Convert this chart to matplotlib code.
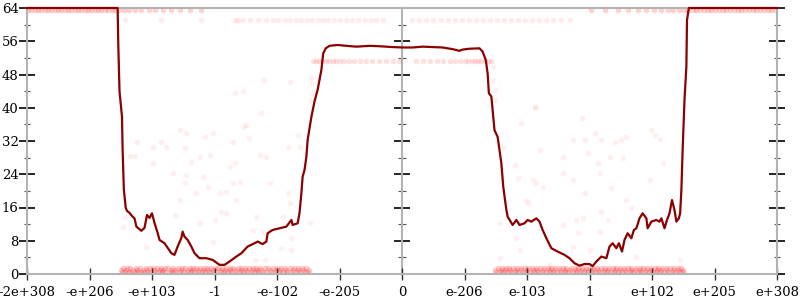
import matplotlib
matplotlib.use('Agg')
import matplotlib.pyplot as plt
from matplotlib.ticker import MultipleLocator

# x axis is an ordinal float scale, one unit per labelled tick
tick_labels = ['-2e+308', '-e+206', '-e+103', '-1', '-e-102', '-e-205', '0',
               'e-206', 'e-103', '1', 'e+102', 'e+205', 'e+308']

# average bits of error
line_x = [-6.00, -4.55, -4.54, -4.52, -4.48, -4.47, -4.45, -4.42, -4.40, -4.36, -4.31, -4.28,
          -4.25, -4.17, -4.12, -4.08, -4.04, -4.00, -3.96, -3.91, -3.88, -3.80, -3.75, -3.69,
          -3.64, -3.59, -3.53, -3.51, -3.48, -3.43, -3.37, -3.32, -3.24, -3.13, -3.03, -2.92,
          -2.84, -2.76, -2.65, -2.57, -2.47, -2.36, -2.31, -2.23, -2.17, -2.15, -2.07, -1.96,
          -1.85, -1.77, -1.75, -1.67, -1.64, -1.61, -1.59, -1.56, -1.53, -1.51, -1.45, -1.40,
          -1.35, -1.29, -1.26, -1.22, -1.16, -1.03, -0.89, -0.73, -0.52, -0.36, -0.15, 0.01,
          0.17, 0.33, 0.49, 0.65, 0.81, 0.92, 0.97, 1.08, 1.24, 1.29, 1.34, 1.37,
          1.39, 1.43, 1.48, 1.53, 1.59, 1.62, 1.67, 1.69, 1.77, 1.83, 1.88, 1.96,
          2.01, 2.07, 2.15, 2.20, 2.25, 2.31, 2.39, 2.49, 2.60, 2.68, 2.76, 2.84,
          2.92, 3.00, 3.05, 3.11, 3.19, 3.27, 3.32, 3.37, 3.43, 3.47, 3.52, 3.56,
          3.61, 3.67, 3.71, 3.75, 3.80, 3.85, 3.91, 3.93, 3.99, 4.07, 4.12, 4.15,
          4.20, 4.24, 4.28, 4.32, 4.36, 4.39, 4.43, 4.45, 4.47, 4.49, 4.52, 4.55,
          4.56, 4.59, 6.00]
line_y = [64.0, 64.0, 55.6, 44.0, 37.8, 29.8, 20.2, 15.9, 15.2, 14.7, 13.8, 13.4,
          11.4, 10.4, 11.1, 14.2, 13.5, 14.6, 12.3, 9.9, 8.2, 7.4, 6.3, 5.0,
          4.6, 6.6, 8.7, 10.2, 9.0, 8.2, 6.6, 5.0, 3.8, 3.8, 3.4, 2.2,
          2.2, 3.0, 4.2, 5.0, 6.6, 7.4, 7.8, 7.2, 7.8, 9.8, 10.6, 11.0,
          11.4, 13.0, 11.8, 12.2, 14.6, 19.4, 23.4, 25.0, 28.2, 32.2, 37.8, 41.5,
          44.3, 49.1, 53.1, 54.3, 54.9, 55.1, 54.9, 54.7, 54.9, 54.8, 54.6, 54.5,
          54.5, 54.7, 54.6, 54.5, 54.1, 53.7, 54.0, 54.2, 54.3, 53.5, 51.5, 48.3,
          43.5, 42.7, 34.6, 33.0, 26.6, 21.0, 15.4, 13.8, 11.8, 13.0, 11.8, 12.2,
          13.0, 12.6, 13.4, 12.6, 10.6, 8.6, 6.2, 5.4, 4.6, 3.8, 2.6, 2.0,
          2.4, 2.4, 1.9, 3.0, 4.2, 3.8, 6.6, 7.4, 6.2, 7.4, 5.4, 8.2,
          9.8, 8.6, 10.6, 11.0, 13.4, 14.6, 13.4, 11.0, 12.6, 13.0, 12.6, 13.4,
          11.0, 13.0, 14.6, 17.8, 15.4, 12.6, 13.4, 14.6, 20.2, 29.8, 41.9, 49.9,
          61.1, 64.0, 64.0]

# individual samples scattered between the bands
pts_x = [-4.35, -4.28, -3.99, -3.67, -3.37, -3.24, -3.08, -2.76, -2.68, -2.28, -2.17, -3.45,
         -3.19, -2.71, -2.60, -3.48, -3.29, -3.11, -2.92, -2.81, -2.65, -2.89, -2.81, -3.00,
         -3.24, -2.33, -2.39, -2.23, -4.09, -4.44, -4.47, -2.55, -2.36, -2.20, -3.56, -3.64,
         -3.03, -3.56, -3.45, -4.24, -3.99, -3.85, -3.78, -3.16, -3.03, -2.71, -2.53, -2.50,
         -2.45, -2.68, -2.55, -2.25, -2.21, -3.47, -1.80, -1.45, -1.44, -1.43, -1.45, -1.67,
         -1.83, -1.64, -2.12, -1.83, -1.80, -1.91, -1.77, -1.93, -1.77, -1.48,
         1.45, 1.46, 1.48, 1.49, 2.13, 1.91, 1.61, 1.56, 1.83, 1.88, 1.56, 1.80,
         1.99, 2.01, 1.85, 2.09, 2.57, 2.97, 3.13, 3.32, 3.53, 4.17, 2.57, 2.73,
         3.16, 3.96, 2.15, 2.25, 2.92, 3.35, 3.59, 3.67, 3.19, 2.79, 2.89, 3.29,
         2.57, 2.81, 3.16, 2.73, 3.00, 3.75, 4.44, 2.36, 2.12, 2.88, 3.08, 3.18,
         2.73, 2.92, 3.40, 3.51, 3.59, 3.99, 4.04, 4.12, 2.20]
pts_y = [28.4, 28.4, 26.6, 24.2, 27.0, 28.2, 28.6, 25.8, 26.6, 28.6, 28.2, 23.8,
         23.4, 21.8, 22.2, 21.8, 19.4, 21.0, 19.4, 19.8, 17.8, 15.0, 14.6, 13.0,
         12.2, 13.8, 10.6, 9.8, 6.6, 13.8, 11.4, 5.0, 3.4, 3.4, 17.8, 14.2,
         7.8, 34.6, 33.9, 31.8, 30.6, 31.8, 30.6, 33.0, 33.9, 31.8, 35.4, 35.9,
         32.8, 43.5, 44.1, 38.8, 46.7, 30.2, 46.3, 47.1, 45.9, 43.5, 41.9, 33.4,
         30.6, 30.6, 21.8, 19.4, 17.0, 13.8, 8.6, 6.2, 5.8, 12.2,
         49.9, 46.7, 44.3, 41.9, 40.3, 36.3, 30.6, 12.2, 8.6, 5.8, 3.8, 26.2,
         17.8, 17.0, 23.0, 22.6, 28.2, 29.0, 26.6, 28.2, 27.8, 26.6, 24.2, 22.6,
         24.2, 22.6, 21.8, 21.0, 19.4, 20.6, 17.8, 15.8, 15.0, 13.0, 13.4, 13.0,
         11.8, 9.8, 10.2, 6.6, 5.8, 4.2, 3.4, 2.2, 40.3, 37.5, 33.9, 32.2,
         32.2, 32.2, 31.8, 32.2, 33.0, 34.6, 33.4, 32.6, 29.8]

# samples piled up on a few error levels
top_x = [-5.98, -5.93, -5.88, -5.83, -5.78, -5.72, -5.67, -5.62, -5.56, -5.51, -5.46, -5.40,
         -5.35, -5.30, -5.24, -5.19, -5.13, -5.08, -5.03, -4.97, -4.92, -4.86, -4.81, -4.75,
         -4.70, -4.64, -4.59, -4.53, -4.45, -4.37, -4.28, -4.18, -4.05, -3.96, -3.83, -3.70,
         -3.55, -3.40, -3.22,
         3.02, 3.25, 3.46, 3.62, 3.78, 3.91, 4.03, 4.14, 4.25, 4.34, 4.43, 4.51,
         4.58, 4.65, 4.71, 4.77, 4.83, 4.89, 4.95, 5.01, 5.07, 5.13, 5.19, 5.25,
         5.31, 5.37, 5.43, 5.49, 5.55, 5.61, 5.67, 5.73, 5.79, 5.85, 5.91, 5.97]
top_y = 63.5
band61_x = [-4.44, -3.86, -3.22, -2.68, -2.62, -2.55, -2.44, -2.30, -2.18, -2.07, -1.98,
            -1.88, -1.79, -1.70, -1.61, -1.52, -1.44, -1.35, -1.27, -1.18, -1.09,
            -1.00, -0.90, -0.80, -0.70, -0.60, -0.50, -0.41, -0.30,
            0.16, 0.27, 0.39, 0.50, 0.62, 0.73, 0.85, 0.96, 1.07, 1.19, 1.30,
            1.41, 1.52, 1.63, 1.75, 1.86, 1.97, 2.08, 2.19, 2.30, 2.42, 2.55, 2.68]
band61_y = 61.1
band51_x = [-1.43, -1.38, -1.33, -1.28, -1.22, -1.17, -1.11, -1.06, -1.00, -0.93, -0.85,
            -0.77, -0.68, -0.58, -0.48, -0.37, -0.26, -0.15, -0.05,
            0.22, 0.33, 0.44, 0.56, 0.66, 0.76, 0.85, 0.93, 1.00, 1.06, 1.12,
            1.17, 1.22, 1.27, 1.32, 1.37, 1.42]
band51_y = 51.3
low_a_x = [-4.48, -4.43, -4.37, -4.33, -4.28, -4.22, -4.17, -4.13, -4.06, -4.01, -3.95, -3.90,
           -3.84, -3.79, -3.72, -3.68, -3.61, -3.55, -3.50, -3.44, -3.38, -3.33, -3.26, -3.20,
           -3.15, -3.09, -3.03, -2.97, -2.90, -2.85, -2.79, -2.73, -2.66, -2.60, -2.55, -2.48,
           -2.42, -2.36, -2.30, -2.23, -2.17, -2.10, -2.04, -1.97, -1.90, -1.84, -1.77, -1.70,
           -1.63, -1.56, -1.50,
           1.51, 1.57, 1.62, 1.68, 1.75, 1.81, 1.86, 1.93, 1.99, 2.05, 2.11, 2.17,
           2.24, 2.30, 2.36, 2.41, 2.48, 2.54, 2.60, 2.66, 2.73, 2.78, 2.84, 2.91,
           2.97, 3.03, 3.09, 3.15, 3.21, 3.28, 3.34, 3.39, 3.46, 3.52, 3.58, 3.64,
           3.70, 3.77, 3.83, 3.88, 3.95, 4.01, 4.07, 4.13, 4.19, 4.26, 4.32, 4.38,
           4.44, 4.49]
low_a_y = 0.6
low_b_x = [-4.46, -4.40, -4.35, -4.26, -4.20, -4.10, -4.04, -3.98, -3.92, -3.86, -3.80, -3.75,
           -3.66, -3.58, -3.52, -3.47, -3.40, -3.35, -3.29, -3.23, -3.17, -3.12, -3.06, -3.00,
           -2.94, -2.88, -2.82, -2.76, -2.70, -2.63, -2.57, -2.51, -2.45, -2.39, -2.33, -2.27,
           -2.20, -2.14, -2.07, -2.00, -1.93, -1.87, -1.80, -1.73, -1.66, -1.60, -1.53,
           1.54, 1.60, 1.66, 1.71, 1.78, 1.84, 1.90, 1.96, 2.02, 2.08, 2.14, 2.21,
           2.27, 2.33, 2.39, 2.45, 2.51, 2.57, 2.63, 2.70, 2.76, 2.81, 2.88, 2.94,
           3.00, 3.06, 3.12, 3.18, 3.25, 3.31, 3.37, 3.43, 3.49, 3.55, 3.61, 3.67,
           3.74, 3.80, 3.86, 3.92, 3.98, 4.04, 4.10, 4.16, 4.23, 4.29, 4.35, 4.41,
           4.47]
low_b_y = 1.4
low_c_x = [-4.50, -4.42, -4.31, -4.24, -4.15, -4.08, -3.97, -3.88, -3.82, -3.70, -3.63, -3.53,
           -3.42, -3.36, -3.27, -3.18, -3.11, -3.02, -2.92, -2.83, -2.75, -2.68, -2.58, -2.50,
           -2.40, -2.32, -2.25, -2.12, -2.02, -1.95, -1.86, -1.75, -1.67, -1.58, -1.49,
           1.49, 1.58, 1.65, 1.73, 1.82, 1.91, 2.00, 2.09, 2.16, 2.26, 2.35, 2.43,
           2.52, 2.61, 2.68, 2.79, 2.86, 2.95, 3.05, 3.13, 3.23, 3.30, 3.41, 3.48,
           3.57, 3.66, 3.72, 3.81, 3.90, 3.99, 4.08, 4.15, 4.24, 4.33, 4.42, 4.50]
low_c_y = 1.0

plt.rcParams['font.family'] = 'DejaVu Serif'
grey = '#b3b3b3'

fig = plt.figure(figsize=(8, 3), dpi=100)

# center axis (at 0) with ticks crossing both sides, drawn underneath
axc = fig.add_axes([27 / 800, 26 / 300, 750 / 800, 266 / 300])
axc.set_xlim(-6, 6)
axc.set_ylim(0, 64)
axc.patch.set_visible(False)
for side in ['top', 'right', 'bottom']:
    axc.spines[side].set_visible(False)
axc.spines['left'].set_position(('data', 0))
axc.spines['left'].set_color(grey)
axc.spines['left'].set_linewidth(1.5)
axc.set_xticks([])
axc.yaxis.set_major_locator(MultipleLocator(8))
axc.yaxis.set_minor_locator(MultipleLocator(4))
axc.tick_params(axis='y', which='major', direction='inout', length=11, width=1.2,
                color='black', labelleft=False)
axc.tick_params(axis='y', which='minor', direction='inout', length=6, width=0.8,
                color='#555555')

ax = fig.add_axes([27 / 800, 26 / 300, 750 / 800, 266 / 300])
ax.patch.set_visible(False)

dot = dict(color='red', s=16, linewidths=0)
ax.scatter(pts_x, pts_y, alpha=0.06, **dot)
ax.scatter(top_x, [top_y] * len(top_x), alpha=0.18, clip_on=False, **dot)
ax.scatter(band61_x, [band61_y] * len(band61_x), alpha=0.08, **dot)
ax.scatter(band51_x, [band51_y] * len(band51_x), alpha=0.12, **dot)
for xs, yv in [(low_a_x, low_a_y), (low_b_x, low_b_y), (low_c_x, low_c_y)]:
    ax.scatter(xs, [yv] * len(xs), alpha=0.2, **dot)

ax.plot(line_x, line_y, color='#8b0000', linewidth=1.6, clip_on=False, zorder=3)

ax.set_xlim(-6, 6)
ax.set_ylim(0, 64)
ax.set_xticks(range(-6, 7))
ax.set_xticklabels(tick_labels)
ax.yaxis.set_major_locator(MultipleLocator(8))
ax.yaxis.set_minor_locator(MultipleLocator(4))

for side in ax.spines:
    ax.spines[side].set_color(grey)
    ax.spines[side].set_linewidth(1.5)

ax.tick_params(axis='x', direction='inout', length=9, width=1.0, color='#333333',
               labelsize=9.5, pad=4.5)
ax.tick_params(axis='y', which='major', direction='inout', length=11, width=1.2,
               color='black', labelsize=9.5, pad=0.5, right=True)
ax.tick_params(axis='y', which='minor', direction='inout', length=5, width=0.8,
               color='#555555', right=True)

fig.savefig('out.png', dpi=100, facecolor='white')
